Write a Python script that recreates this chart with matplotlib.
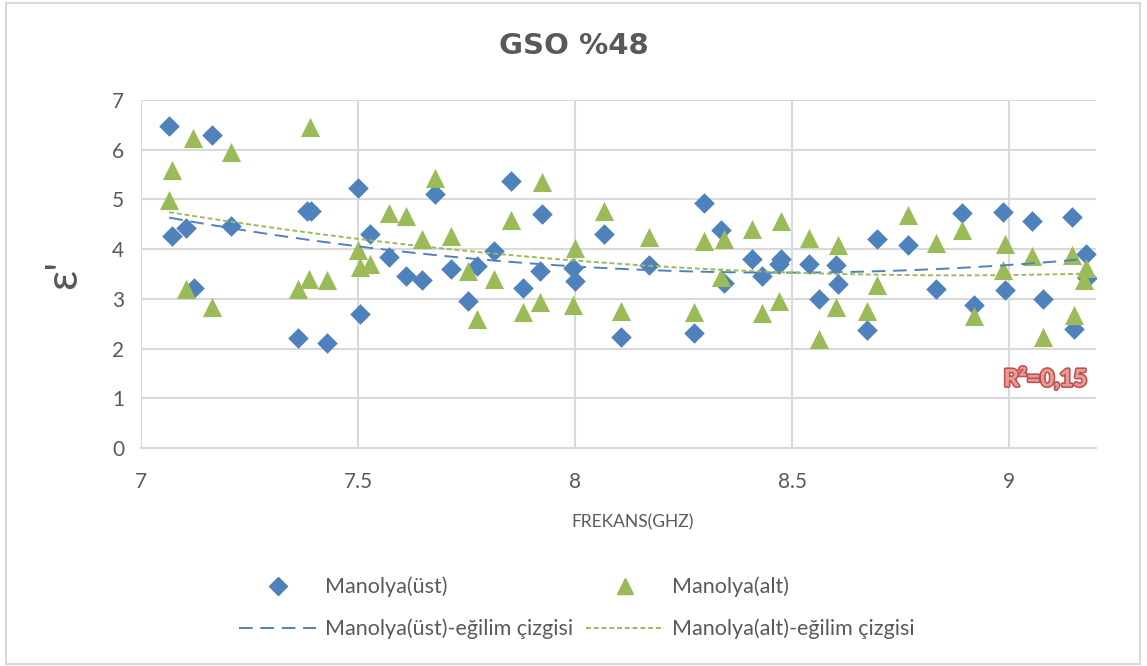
import numpy as np
import matplotlib
matplotlib.use('Agg')
import matplotlib.pyplot as plt
import matplotlib.patheffects as pe
from matplotlib.lines import Line2D
from matplotlib.patches import Rectangle

# Manolya(ust) - blue diamonds
ust_x = [7.065, 7.164, 7.071, 7.104, 7.207, 7.122, 7.500, 7.383, 7.391, 7.527, 7.505,
         7.362, 7.429, 7.571, 7.611, 7.648, 7.677, 7.715, 7.753, 7.775, 7.814, 7.852,
         7.880, 7.919, 7.924, 7.995, 8.000, 8.067, 8.105, 8.171, 8.275, 8.298, 8.336,
         8.342, 8.408, 8.431, 8.469, 8.474, 8.540, 8.562, 8.601, 8.606, 8.672, 8.695,
         8.766, 8.832, 8.892, 8.920, 8.986, 8.991, 9.052, 9.079, 9.145, 9.150, 9.176,
         9.180]
ust_y = [6.48, 6.30, 4.27, 4.43, 4.47, 3.22, 5.23, 4.77, 4.77, 4.31, 2.69,
         2.21, 2.12, 3.85, 3.46, 3.37, 5.11, 3.60, 2.95, 3.66, 3.97, 5.37,
         3.22, 3.56, 4.71, 3.63, 3.36, 4.30, 2.23, 3.68, 2.32, 4.93, 4.39,
         3.32, 3.80, 3.46, 3.71, 3.80, 3.70, 2.99, 3.69, 3.30, 2.37, 4.20,
         4.08, 3.19, 4.73, 2.87, 4.75, 3.17, 4.56, 2.99, 4.65, 2.39, 3.91,
         3.41]

# Manolya(alt) - green triangles
alt_x = [7.390, 7.120, 7.208, 7.071, 7.065, 7.104, 7.164, 7.362, 7.386, 7.429, 7.500,
         7.505, 7.527, 7.677, 7.571, 7.611, 7.648, 7.715, 7.753, 7.775, 7.814, 7.852,
         7.880, 7.919, 7.924, 8.000, 7.995, 8.067, 8.105, 8.171, 8.275, 8.298, 8.342,
         8.336, 8.408, 8.431, 8.474, 8.469, 8.540, 8.562, 8.606, 8.601, 8.672, 8.695,
         8.766, 8.832, 8.892, 8.920, 8.991, 8.986, 9.052, 9.079, 9.145, 9.150, 9.178,
         9.173]
alt_y = [6.46, 6.23, 5.95, 5.60, 4.99, 3.19, 2.83, 3.20, 3.39, 3.38, 3.99,
         3.64, 3.70, 5.44, 4.73, 4.66, 4.21, 4.26, 3.56, 2.60, 3.40, 4.58,
         2.73, 2.93, 5.36, 4.02, 2.87, 4.77, 2.76, 4.25, 2.73, 4.17, 4.20,
         3.44, 4.41, 2.72, 4.57, 2.96, 4.23, 2.19, 4.09, 2.83, 2.75, 3.28,
         4.68, 4.13, 4.38, 2.66, 4.10, 3.59, 3.87, 2.23, 3.89, 2.67, 3.63,
         3.38]

x_ticks = [7, 7.5, 8, 8.5, 9]
y_ticks = [0, 1, 2, 3, 4, 5, 6, 7]

BLUE = '#4F81BD'
GREEN = '#9BBB59'
GREY = '#595959'
GRID = '#D9D9D9'

plt.rcParams['font.family'] = ['Lato', 'DejaVu Sans']

fig = plt.figure(figsize=(11.47, 6.66), dpi=100)
fig.patches.append(Rectangle((6 / 1147, 2 / 666), 1134 / 1147, 661 / 666,
                             transform=fig.transFigure, fill=False,
                             edgecolor=GRID, linewidth=1.5))

ax = fig.add_axes([141 / 1147, (666 - 448) / 666, 955 / 1147, 348 / 666])

ax.scatter(ust_x, ust_y, marker='D', s=110, color=BLUE, zorder=3, linewidths=0)
ax.scatter(alt_x, alt_y, marker='^', s=190, color=GREEN, zorder=3, linewidths=0)

# second order polynomial trendlines, as in the spreadsheet
for xs, ys, col, ls in [(ust_x, ust_y, BLUE, (0, (7, 4))), (alt_x, alt_y, GREEN, (0, (2.5, 1.5)))]:
    c = np.polyfit(xs, ys, 2)
    xx = np.linspace(min(xs), max(xs), 200)
    ax.plot(xx, np.polyval(c, xx), color=col, linestyle=ls, linewidth=1.4, zorder=4)

ax.set_xlim(7, 9.2)
ax.set_ylim(0, 7)
ax.set_xticks(x_ticks)
ax.set_xticklabels(['7', '7.5', '8', '8.5', '9'])
ax.set_yticks(y_ticks)
ax.grid(True, color=GRID, linewidth=1.5)
ax.set_axisbelow(True)
for s in ['top', 'right', 'left']:
    ax.spines[s].set_visible(False)
ax.spines['bottom'].set_color(GRID)
ax.spines['bottom'].set_linewidth(1.5)
ax.tick_params(length=0, labelsize=15, labelcolor=GREY)
ax.tick_params(axis='x', pad=17)
ax.tick_params(axis='y', pad=12)

ax.set_xlabel('FREKANS(GHZ)', fontsize=12.5, color=GREY)
ax.xaxis.set_label_coords(0.515, -0.19)
ax.set_ylabel("ε'", fontsize=32, color=GREY, labelpad=20)

fig.text(0.5, 1 - 46 / 666, 'GSO %48', ha='center', va='center', fontsize=21,
         fontweight='bold', color=GREY, family=['DejaVu Sans'])

ax.text(9.18, 1.4, 'R²=0,15', ha='right', va='center', fontsize=17,
        fontweight='bold', color='#E89A98',
        path_effects=[pe.withStroke(linewidth=2.5, foreground='#C0504D'),
                      pe.Normal()])

handles = [
    Line2D([], [], marker='D', color=BLUE, linestyle='none', markersize=9),
    Line2D([], [], color=BLUE, linestyle=(0, (7, 4)), linewidth=1.4),
    Line2D([], [], marker='^', color=GREEN, linestyle='none', markersize=11),
    Line2D([], [], color=GREEN, linestyle=(0, (2.5, 1.5)), linewidth=1.4),
]
labels = ['Manolya(üst)', 'Manolya(üst)-eğilim çizgisi',
          'Manolya(alt)', 'Manolya(alt)-eğilim çizgisi']
leg = fig.legend(handles, labels, ncol=2, loc='center', bbox_to_anchor=(0.503, 0.087),
                 frameon=False, fontsize=15.5, handlelength=3.6, columnspacing=0.6,
                 labelspacing=1.0, handletextpad=0.4)
for t in leg.get_texts():
    t.set_color(GREY)

fig.savefig('out.png', dpi=100)
